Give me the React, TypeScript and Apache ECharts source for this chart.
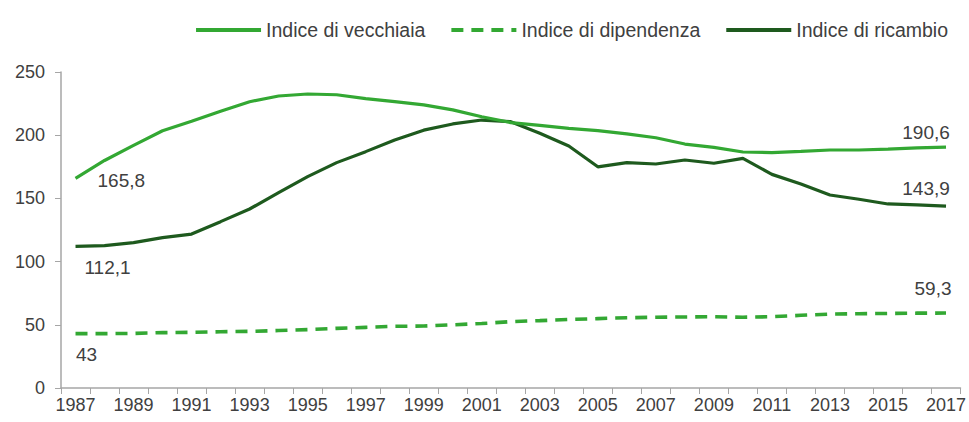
import React, { useEffect, useRef } from "react";
import * as echarts from "echarts";

const years = [
  "1987", "1988", "1989", "1990", "1991", "1992", "1993", "1994", "1995", "1996",
  "1997", "1998", "1999", "2000", "2001", "2002", "2003", "2004", "2005", "2006",
  "2007", "2008", "2009", "2010", "2011", "2012", "2013", "2014", "2015", "2016", "2017",
];

const vecchiaia = [
  165.8, 180, 192, 203.5, 211, 219, 226.5, 231, 232.6, 232,
  229, 226.5, 224, 220, 214.6, 210, 207.8, 205.4, 203.6, 201,
  198, 193, 190.4, 186.7, 186.2, 187.2, 188.3, 188.3, 189, 189.9, 190.6,
];

const dipendenza = [
  43, 43, 43.2, 43.8, 44, 44.5, 44.8, 45.5, 46.2, 47.2,
  48, 48.8, 49, 50, 51, 52.5, 53.3, 54.2, 54.9, 55.6,
  56, 56.2, 56.4, 56, 56.4, 57.5, 58.5, 58.8, 59, 59.2, 59.3,
];

const ricambio = [
  112.1, 112.6, 115, 119, 121.8, 131.6, 141.6, 154.5, 167.2, 178.3,
  187, 196.2, 204, 208.9, 212, 210.7, 201.5, 191.5, 175, 178.3,
  177.2, 180.4, 177.8, 181.7, 169, 161.4, 152.7, 149.3, 145.6, 144.8, 143.9,
];

const seriesNames = ["Indice di vecchiaia", "Indice di dipendenza", "Indice di ricambio"];

const LIGHT = "#33a833";
const DARK = "#1e5a1e";
const TEXT = "#404040";
const FONT = "'Liberation Sans', Arial, sans-serif";

const fmt = (v: number) => String(v).replace(".", ",");

function withLabels(
  values: number[],
  first: { position: string; distance: number; offset: number[] },
  last: { position: string; distance: number; offset: number[] }
) {
  return values.map((v, i) => {
    if (i === 0 || i === values.length - 1) {
      const cfg = i === 0 ? first : last;
      return {
        value: v,
        symbol: "circle",
        symbolSize: 0,
        label: {
          show: true,
          formatter: fmt(v),
          position: cfg.position,
          distance: cfg.distance,
          offset: cfg.offset,
          color: TEXT,
          fontSize: 19,
          fontFamily: FONT,
        },
      };
    }
    return v;
  });
}

export default function App() {
  const ref = useRef<HTMLDivElement>(null);

  useEffect(() => {
    if (!ref.current) return;
    const chart = echarts.init(ref.current, null, { renderer: "svg" });
    chart.setOption({
      animation: false,
      backgroundColor: "#ffffff",
      textStyle: { fontFamily: FONT },
      legend: {
        data: seriesNames,
        right: 16,
        top: 15,
        itemWidth: 65,
        itemHeight: 16,
        itemGap: 24,
        itemStyle: { opacity: 0 },
        lineStyle: { width: 4 },
        textStyle: { color: TEXT, fontSize: 19.5, fontFamily: FONT },
      },
      grid: { left: 61, right: 6, top: 72, bottom: 34 },
      xAxis: {
        type: "category",
        data: years,
        boundaryGap: true,
        axisLine: { lineStyle: { color: "#a6a6a6", width: 1.5 } },
        axisTick: { show: true, interval: 0, length: 6, lineStyle: { color: "#a6a6a6" } },
        axisLabel: { interval: 1, color: TEXT, fontSize: 18, fontFamily: FONT, margin: 8 },
        splitLine: { show: false },
      },
      yAxis: {
        type: "value",
        min: 0,
        max: 250,
        interval: 50,
        axisLine: { show: true, lineStyle: { color: "#a6a6a6", width: 1.5 } },
        axisTick: { show: true, length: 6, lineStyle: { color: "#a6a6a6" } },
        axisLabel: { color: TEXT, fontSize: 18, fontFamily: FONT, margin: 16 },
        splitLine: { show: false },
      },
      series: [
        {
          name: seriesNames[0],
          type: "line",
          symbol: "none",
          color: LIGHT,
          lineStyle: { color: LIGHT, width: 3.2 },
          data: withLabels(
            vecchiaia,
            { position: "right", distance: 22, offset: [0, 2] },
            { position: "top", distance: 5, offset: [-20, 0] }
          ),
          z: 3,
        },
        {
          name: seriesNames[1],
          type: "line",
          symbol: "none",
          color: LIGHT,
          lineStyle: { color: LIGHT, width: 3.6, type: [12, 8] },
          data: withLabels(
            dipendenza,
            { position: "bottom", distance: 11, offset: [11, 0] },
            { position: "top", distance: 15, offset: [-13, 0] }
          ),
          z: 2,
        },
        {
          name: seriesNames[2],
          type: "line",
          symbol: "none",
          color: DARK,
          lineStyle: { color: DARK, width: 3.2 },
          data: withLabels(
            ricambio,
            { position: "bottom", distance: 12, offset: [32, 0] },
            { position: "top", distance: 8, offset: [-20, 0] }
          ),
          z: 2,
        },
      ],
    });
    return () => chart.dispose();
  }, []);

  return (
    <div
      ref={ref}
      style={{ position: "fixed", left: 0, top: 0, width: 969, height: 422 }}
    />
  );
}
